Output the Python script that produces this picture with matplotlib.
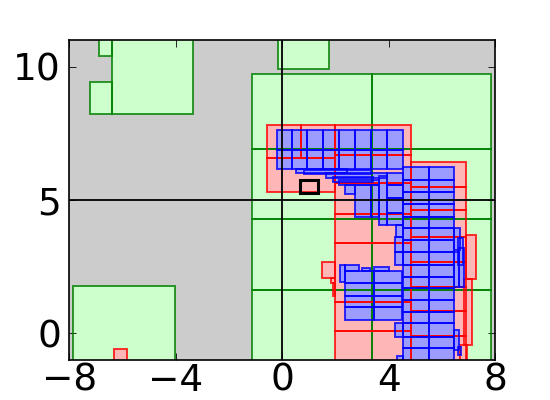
import matplotlib
matplotlib.use('Agg')
import matplotlib.pyplot as plt
from matplotlib.patches import Rectangle

# boxes as (x0, y0, x1, y1)
green_boxes = [
    (-6.87, 10.40, -6.41, 11.30),
    (-6.41, 8.23, -3.36, 11.30),
    (-7.21, 8.23, -6.41, 9.44),
    (-0.14, 9.92, 1.77, 11.30),
    (-7.85, -1.10, -4.01, 1.78),
    (-1.12, 6.92, 3.37, 9.71),
    (3.37, 6.92, 7.85, 9.71),
    (-1.12, 4.29, 3.37, 6.92),
    (3.37, 4.29, 7.85, 6.92),
    (-1.12, 1.62, 3.37, 4.29),
    (3.37, 1.62, 7.85, 4.29),
    (-1.12, -1.10, 3.37, 1.62),
    (3.37, -1.10, 7.85, 1.62),
]

red_boxes = [
    (-6.31, -1.10, -5.84, -0.58),
    (-0.58, 6.58, 0.72, 7.83),
    (0.72, 6.58, 2.00, 7.83),
    (-0.58, 5.31, 2.00, 6.58),
    (2.00, 6.70, 4.83, 7.83),
    (2.00, 5.62, 4.83, 6.70),
    (2.00, 4.47, 4.83, 5.62),
    (2.00, 3.38, 4.83, 4.47),
    (2.00, 1.18, 4.83, 3.38),
    (2.00, 0.10, 4.83, 1.18),
    (2.00, -1.10, 4.83, 0.10),
    (4.83, 5.49, 6.90, 6.43),
    (4.83, 4.61, 6.90, 5.49),
    (4.83, 3.61, 6.90, 4.61),
    (4.83, 2.69, 6.90, 3.61),
    (4.83, 1.75, 6.90, 2.69),
    (4.83, 0.84, 6.90, 1.75),
    (4.83, -0.10, 6.90, 0.84),
    (4.83, -1.10, 6.90, -0.10),
    (6.90, 2.05, 7.30, 3.70),
    (6.85, -0.45, 7.15, 2.05),
    (6.70, -1.10, 6.95, -0.45),
    (1.51, 2.07, 2.00, 2.67),
    (1.85, 1.90, 2.00, 2.07),
    (1.90, 1.40, 2.00, 1.90),
]

blue_boxes = [
    # upper block, two rows
    (-0.20, 6.89, 0.36, 7.64), (0.36, 6.89, 0.95, 7.64), (0.95, 6.89, 1.55, 7.64),
    (1.55, 6.89, 2.14, 7.64), (2.14, 6.89, 2.74, 7.64), (2.74, 6.89, 3.34, 7.64),
    (3.34, 6.89, 3.93, 7.64), (3.93, 6.89, 4.53, 7.64),
    (-0.20, 6.17, 0.36, 6.89), (0.36, 6.17, 0.95, 6.89), (0.95, 6.17, 1.55, 6.89),
    (1.55, 6.17, 2.14, 6.89), (2.14, 6.17, 2.74, 6.89), (2.74, 6.17, 3.34, 6.89),
    (3.34, 6.17, 3.93, 6.89), (3.93, 6.17, 4.53, 6.89),
    # staircase
    (0.53, 6.03, 2.45, 6.17),
    (0.83, 5.98, 3.34, 6.12),
    (1.65, 5.83, 3.93, 6.01),
    (1.91, 5.68, 3.40, 5.85),
    (2.14, 5.55, 3.63, 5.75),
    (2.38, 5.24, 2.74, 5.58),
    (2.74, 4.38, 3.34, 5.58),
    (3.34, 4.38, 3.63, 5.58),
    (3.63, 4.07, 3.94, 5.90),
    (3.94, 5.58, 4.53, 6.01),
    (3.94, 5.08, 4.53, 5.58),
    (3.94, 4.51, 4.53, 5.08),
    (3.94, 4.07, 4.53, 4.51),
    (4.28, 3.63, 4.53, 4.07),
    (4.23, 3.05, 4.53, 3.63),
    (4.23, 2.57, 4.53, 3.05),
    (4.23, -0.13, 4.53, 0.38),
    (4.30, -1.10, 4.53, -0.85),
    # right column
    (4.53, 5.76, 5.51, 6.24), (5.51, 5.76, 6.45, 6.24),
    (4.53, 5.30, 5.51, 5.76), (5.51, 5.30, 6.45, 5.76),
    (4.53, 4.86, 5.51, 5.30), (5.51, 4.86, 6.45, 5.30),
    (4.53, 4.38, 5.51, 4.86), (5.51, 4.38, 6.45, 4.86),
    (4.53, 3.95, 5.51, 4.38), (5.51, 3.95, 6.45, 4.38),
    (4.53, 3.50, 5.51, 3.95), (5.51, 3.50, 6.45, 3.95),
    (4.53, 3.05, 5.51, 3.50), (5.51, 3.05, 6.45, 3.50),
    (4.53, 2.57, 5.51, 3.05), (5.51, 2.57, 6.45, 3.05),
    (4.53, 2.13, 5.51, 2.57), (5.51, 2.13, 6.45, 2.57),
    (4.53, 1.69, 5.51, 2.13), (5.51, 1.69, 6.45, 2.13),
    (4.53, 1.25, 5.51, 1.69), (5.51, 1.25, 6.45, 1.69),
    (4.53, 0.81, 5.51, 1.25), (5.51, 0.81, 6.45, 1.25),
    (4.53, 0.38, 5.51, 0.81), (5.51, 0.38, 6.45, 0.81),
    (4.53, -0.13, 5.51, 0.38), (5.51, -0.13, 6.45, 0.38),
    (4.53, -0.56, 5.51, -0.13), (5.51, -0.56, 6.45, -0.13),
    (4.53, -1.10, 5.51, -0.56), (5.51, -1.10, 6.45, -0.56),
    # thin pieces right of the column
    (6.45, 3.13, 6.69, 3.96),
    (6.60, 2.57, 6.80, 3.58),
    (6.45, 1.75, 6.66, 3.05),
    (6.66, 1.75, 6.83, 3.20),
    (6.45, -0.63, 6.66, 0.12),
    (6.60, -0.80, 6.74, -0.50),
    # lower middle block
    (2.36, 1.88, 3.45, 2.32), (3.45, 1.88, 4.50, 2.32),
    (2.36, 1.41, 3.45, 1.88), (3.45, 1.41, 4.50, 1.88),
    (2.36, 0.98, 3.45, 1.41), (3.45, 0.98, 4.50, 1.41),
    (2.36, 0.50, 3.45, 0.98), (3.45, 0.50, 4.50, 0.98),
    (2.18, 1.92, 2.38, 2.57),
    (2.38, 2.32, 2.88, 2.57),
    (3.00, 2.32, 3.30, 2.45),
    (3.45, 2.32, 4.00, 2.50),
]

black_box = (0.66, 5.26, 1.34, 5.76)

x_ticks = [-8, -4, 0, 4, 8]
y_ticks = [0, 5, 10]

fig = plt.figure(figsize=(5.5, 4), dpi=100)
ax = fig.add_axes([0.126, 0.1, 0.774, 0.8])
ax.set_facecolor('#cccccc')


def add_boxes(boxes, face, edge, z):
    for x0, y0, x1, y1 in boxes:
        ax.add_patch(Rectangle((x0, y0), x1 - x0, y1 - y0, facecolor=face,
                               edgecolor='none', zorder=z))
        ax.add_patch(Rectangle((x0, y0), x1 - x0, y1 - y0, fill=False,
                               edgecolor=edge, lw=1.4, alpha=0.8, zorder=z + 3))


add_boxes(green_boxes, '#ccffcc', 'green', 1)
add_boxes(red_boxes, '#ffb6b6', 'red', 2)
add_boxes(blue_boxes, '#9c9cff', 'blue', 3)

x0, y0, x1, y1 = black_box
ax.add_patch(Rectangle((x0, y0), x1 - x0, y1 - y0, fill=False,
                       edgecolor='black', lw=2.2, zorder=8))
ax.axhline(5, color='black', lw=1.3, zorder=7)
ax.axvline(0, color='black', lw=1.3, zorder=7)

ax.set_xlim(-8, 8)
ax.set_ylim(-1, 11)
ax.set_xticks(x_ticks)
ax.set_yticks(y_ticks)
ax.set_xticklabels(['\u2212' + str(-t) if t < 0 else str(t) for t in x_ticks])
ax.tick_params(direction='in', top=True, right=True, labelsize=27,
               length=5, width=0.6)
ax.tick_params(axis='x', pad=2)
ax.tick_params(axis='y', pad=6)
for s in ax.spines.values():
    s.set_zorder(9)
    s.set_linewidth(1.2)

fig.savefig('out.png')
